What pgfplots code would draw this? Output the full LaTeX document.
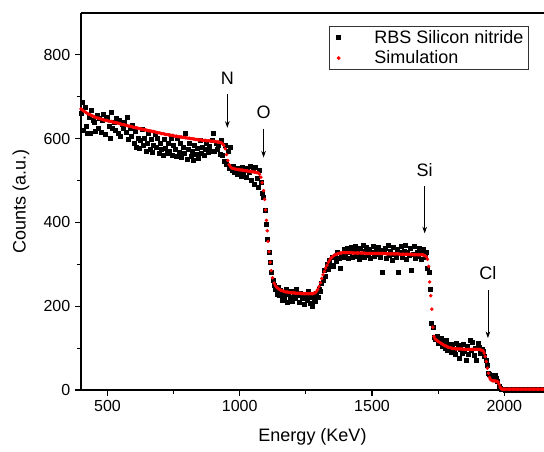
\documentclass[border=0pt]{standalone}
\usepackage{pgfplots}
\pgfplotsset{compat=1.18}
\usepackage{fontspec}
\setmainfont{Liberation Sans}
\usetikzlibrary{arrows.meta}
\begin{document}
\begin{tikzpicture}
\begin{axis}[
 scale only axis, width=347.25pt, height=282.75pt,
 xmin=400, xmax=2150, ymin=0, ymax=900,
 axis x line*=bottom, axis y line*=left,
 axis line style={line width=0.9pt,-},
 x axis line style={-}, y axis line style={-},
 xtick={500,1000,1500,2000}, minor xtick={750,1250,1750},
 ytick={0,200,400,600,800}, minor ytick={100,300,500,700},
 tick align=outside, major tick length=4.5pt, minor tick length=3pt,
 tick style={line width=0.9pt, black},
 tick label style={font=\fontsize{12}{14}\selectfont},
 /pgf/number format/assume math mode=true,
 /pgf/number format/1000 sep={},
 clip=false,
 every axis x label/.style={at={(axis description cs:0.5,0)}, anchor=center, yshift=-35pt, font=\fontsize{13.5}{15}\selectfont},
 every axis y label/.style={at={(axis description cs:-0.1296,0.5)}, anchor=center, rotate=90, font=\fontsize{13.5}{15}\selectfont},
 xlabel={Energy (KeV)}, ylabel={Counts (a.u.)},
 legend style={at={(0.968,0.966)}, anchor=north east, draw=black!80, line width=0.6pt, font=\fontsize{13.5}{15}\selectfont, inner xsep=2pt, inner ysep=1pt},
 legend image code/.code={\node[draw=none, fill=none, inner sep=0pt, minimum width=30pt, minimum height=1pt] at (15pt,0pt) {}; \draw[#1] plot coordinates {(20.5pt,0pt)};},
 legend cell align=left,
]
\addplot[only marks, mark=square*, mark size=1.5pt, black] coordinates {
(400,660)(405,688)(410,620)(415,676)(420,630)(425,614)(430,650)(435,612)(440,668)(445,645)(450,640)(455,618)(460,655)(465,625)(470,648)(475,616)(480,645)(485,658)(490,610)(495,652)(500,650)(505,630)(510,600)(515,662)(520,625)(525,640)(530,620)(535,648)(540,612)(545,643)(550,605)(555,635)(560,625)(565,640)(570,615)(575,650)(580,598)(585,625)(590,605)(595,632)(600,590)(605,618)(610,580)(615,602)(620,578)(625,595)(630,622)(635,585)(640,600)(645,570)(650,590)(655,612)(660,575)(665,598)(670,568)(675,585)(680,610)(685,580)(690,602)(695,565)(700,590)(705,575)(710,560)(715,598)(720,578)(725,565)(730,590)(735,570)(740,602)(745,560)(750,585)(755,575)(760,557)(765,600)(770,568)(775,590)(780,555)(785,580)(790,565)(795,612)(800,550)(805,575)(810,590)(815,558)(820,570)(825,548)(830,585)(835,562)(840,578)(845,553)(850,595)(855,565)(860,580)(865,560)(870,575)(875,590)(880,567)(885,583)(890,570)(895,595)(900,612)(905,570)(910,590)(915,575)(920,585)(925,562)(930,595)(935,560)(940,545)(945,585)(950,540)(955,570)(960,530)(965,580)(970,525)(975,535)(980,520)(985,528)(990,515)(995,530)(1000,522)(1005,510)(1010,532)(1015,515)(1020,525)(1025,508)(1030,530)(1035,520)(1040,535)(1045,500)(1050,528)(1055,490)(1060,532)(1065,505)(1070,485)(1075,525)(1080,495)(1085,470)(1090,460)(1095,430)(1100,395)(1105,360)(1110,330)(1115,305)(1120,280)(1125,262)(1130,250)(1135,240)(1140,228)(1145,245)(1150,225)(1155,238)(1160,215)(1165,232)(1170,220)(1175,240)(1180,210)(1185,228)(1190,222)(1195,235)(1200,212)(1205,230)(1210,218)(1215,240)(1220,225)(1225,210)(1230,232)(1235,218)(1240,228)(1245,205)(1250,225)(1255,215)(1260,235)(1265,208)(1270,222)(1275,200)(1280,218)(1285,212)(1290,230)(1295,222)(1300,240)(1305,235)(1310,255)(1315,262)(1320,285)(1325,272)(1330,300)(1335,288)(1340,310)(1345,298)(1350,318)(1355,295)(1360,320)(1365,308)(1370,330)(1375,315)(1380,290)(1385,325)(1390,318)(1395,335)(1400,322)(1405,338)(1410,315)(1415,330)(1420,340)(1425,318)(1430,332)(1435,342)(1440,320)(1445,335)(1450,312)(1455,338)(1460,325)(1465,345)(1470,318)(1475,332)(1480,340)(1485,322)(1490,335)(1495,315)(1500,330)(1505,342)(1510,320)(1515,336)(1520,325)(1525,340)(1530,318)(1535,333)(1540,281)(1545,328)(1550,338)(1555,315)(1560,345)(1565,322)(1570,332)(1575,310)(1580,340)(1585,325)(1590,318)(1595,335)(1600,281)(1605,328)(1610,342)(1615,318)(1620,332)(1625,345)(1630,312)(1635,330)(1640,322)(1645,338)(1650,286)(1655,325)(1660,342)(1665,315)(1670,330)(1675,320)(1680,338)(1685,312)(1690,328)(1695,335)(1700,318)(1705,330)(1710,290)(1715,282)(1720,240)(1725,160)(1730,150)(1735,125)(1740,120)(1745,128)(1750,112)(1755,118)(1760,124)(1765,105)(1770,115)(1775,100)(1780,118)(1785,95)(1790,110)(1795,102)(1800,90)(1805,108)(1810,95)(1815,85)(1820,112)(1825,107)(1830,76)(1835,98)(1840,88)(1845,110)(1850,92)(1855,71)(1860,105)(1865,85)(1870,118)(1875,95)(1880,114)(1885,82)(1890,100)(1895,71)(1900,112)(1905,102)(1910,88)(1915,98)(1920,92)(1925,80)(1930,72)(1935,60)(1940,40)(1945,38)(1950,32)(1955,35)(1960,30)(1965,34)(1970,28)(1975,22)(1980,10)(1985,4)(1990,2)(1995,1)(2000,1)(2005,0)(2010,1)(2015,0)(2020,1)(2025,0)(2030,1)(2035,0)(2040,1)(2045,0)(2050,1)(2055,0)(2060,1)(2065,0)(2070,1)(2075,0)(2080,1)(2085,0)(2090,1)(2095,0)(2100,1)(2105,0)(2110,1)(2115,0)(2120,1)(2125,0)(2130,1)(2135,0)(2140,1)(2145,0)(2150,1)
};
\addlegendentry{RBS Silicon nitride}
\addplot[only marks, mark=*, mark size=1.1pt, red] coordinates {
(400,671)(405,669)(410,666)(415,664)(420,662)(425,660)(430,658)(435,657)(440,655)(445,654)(450,652)(455,651)(460,650)(465,649)(470,648)(475,647)(480,646)(485,645)(490,644)(495,644)(500,643)(505,642)(510,641)(515,641)(520,640)(525,639)(530,638)(535,638)(540,637)(545,636)(550,635)(555,634)(560,634)(565,633)(570,632)(575,631)(580,630)(585,630)(590,629)(595,628)(600,627)(605,626)(610,626)(615,625)(620,624)(625,623)(630,623)(635,622)(640,621)(645,621)(650,620)(655,619)(660,619)(665,618)(670,617)(675,617)(680,616)(685,615)(690,614)(695,614)(700,613)(705,612)(710,612)(715,611)(720,610)(725,610)(730,609)(735,609)(740,608)(745,608)(750,607)(755,606)(760,606)(765,605)(770,605)(775,604)(780,604)(785,603)(790,603)(795,602)(800,602)(805,601)(810,601)(815,600)(820,600)(825,599)(830,599)(835,598)(840,598)(845,597)(850,597)(855,597)(860,596)(865,596)(870,596)(875,595)(880,595)(885,595)(890,594)(895,594)(900,594)(905,593)(910,593)(915,592)(920,592)(925,591)(930,590)(935,588)(940,584)(945,576)(950,562)(955,548)(960,538)(965,533)(970,530)(975,529)(980,528)(985,527)(990,527)(995,526)(1000,526)(1005,525)(1010,525)(1015,524)(1020,524)(1025,523)(1030,523)(1035,522)(1040,522)(1045,521)(1050,521)(1055,520)(1060,520)(1065,519)(1070,518)(1075,515)(1080,508)(1085,495)(1090,476)(1094,455)(1098,430)(1101,405)(1104,380)(1107,355)(1111,330)(1115,305)(1119,285)(1124,268)(1130,255)(1135,249)(1140,245)(1145,242)(1150,240)(1155,238)(1160,237)(1165,236)(1170,235)(1175,234)(1180,234)(1185,233)(1190,233)(1195,232)(1200,232)(1205,232)(1210,231)(1215,231)(1220,231)(1225,231)(1230,231)(1235,230)(1240,230)(1245,230)(1250,230)(1255,230)(1260,230)(1265,230)(1270,230)(1275,230)(1280,231)(1285,232)(1290,235)(1295,240)(1300,247)(1305,256)(1310,266)(1315,275)(1320,283)(1325,291)(1330,298)(1335,305)(1340,310)(1345,315)(1350,318)(1355,321)(1360,323)(1365,324)(1370,325)(1375,326)(1380,327)(1385,327)(1390,328)(1395,328)(1400,328)(1405,328)(1410,328)(1415,328)(1420,328)(1425,327)(1430,327)(1435,327)(1440,327)(1445,327)(1450,327)(1455,327)(1460,327)(1465,327)(1470,327)(1475,326)(1480,326)(1485,326)(1490,326)(1495,326)(1500,326)(1505,326)(1510,326)(1515,326)(1520,326)(1525,326)(1530,326)(1535,326)(1540,326)(1545,326)(1550,326)(1555,325)(1560,325)(1565,325)(1570,325)(1575,325)(1580,325)(1585,325)(1590,325)(1595,325)(1600,325)(1605,324)(1610,324)(1615,324)(1620,324)(1625,324)(1630,324)(1635,324)(1640,324)(1645,324)(1650,324)(1655,323)(1660,323)(1665,323)(1670,323)(1675,323)(1680,323)(1685,323)(1690,323)(1695,322)(1700,321)(1705,318)(1710,312)(1714,295)(1718,258)(1722,225)(1726,193)(1730,150)(1734,128)(1738,122)(1742,120)(1746,118)(1750,116)(1755,114)(1760,112)(1765,110)(1770,108)(1775,106)(1780,105)(1785,103)(1790,102)(1795,101)(1800,100)(1805,99)(1810,99)(1815,98)(1820,98)(1825,98)(1830,98)(1835,98)(1840,98)(1845,97)(1850,97)(1855,97)(1860,97)(1865,97)(1870,97)(1875,97)(1880,97)(1885,97)(1890,97)(1895,97)(1900,97)(1905,97)(1910,96)(1915,95)(1920,93)(1924,88)(1928,80)(1932,68)(1936,52)(1940,40)(1944,30)(1948,25)(1952,23)(1956,22)(1960,22)(1964,22)(1968,21)(1972,21)(1976,19)(1980,14)(1984,7)(1988,3)(1992,2)(1996,2)(2000,2)(2005,2)(2010,2)(2015,2)(2020,2)(2025,2)(2030,2)(2035,2)(2040,2)(2045,2)(2050,2)(2055,2)(2060,2)(2065,2)(2070,2)(2075,2)(2080,2)(2085,2)(2090,2)(2095,2)(2100,2)(2105,2)(2110,2)(2115,2)(2120,2)(2125,2)(2130,2)(2135,2)(2140,2)(2145,2)(2150,2)
};
\addlegendentry{Simulation}
\draw[line width=0.9pt] (rel axis cs:0,1) -- (rel axis cs:1,1);
\coordinate (SW) at (rel axis cs:0,0);
\node[font=\fontsize{13.5}{15}\selectfont] at (axis cs:953,745) {N};
\draw[-{Stealth[length=5pt,width=3.5pt]}, line width=0.6pt] (axis cs:953,707) -- (axis cs:953,626);
\node[font=\fontsize{13.5}{15}\selectfont] at (axis cs:1090,662) {O};
\draw[-{Stealth[length=5pt,width=3.5pt]}, line width=0.6pt] (axis cs:1090,624) -- (axis cs:1090,555);
\node[font=\fontsize{13.5}{15}\selectfont] at (axis cs:1699,524) {Si};
\draw[-{Stealth[length=5pt,width=3.5pt]}, line width=0.6pt] (axis cs:1699,486) -- (axis cs:1699,374);
\node[font=\fontsize{13.5}{15}\selectfont] at (axis cs:1938,279) {Cl};
\draw[-{Stealth[length=5pt,width=3.5pt]}, line width=0.6pt] (axis cs:1938,238) -- (axis cs:1938,124);
\end{axis}
\pgfresetboundingbox
\path[use as bounding box] ([shift={(-60.75pt,-45.75pt)}]SW) rectangle ([shift={(347.25pt,292.5pt)}]SW);
\end{tikzpicture}
\end{document}
